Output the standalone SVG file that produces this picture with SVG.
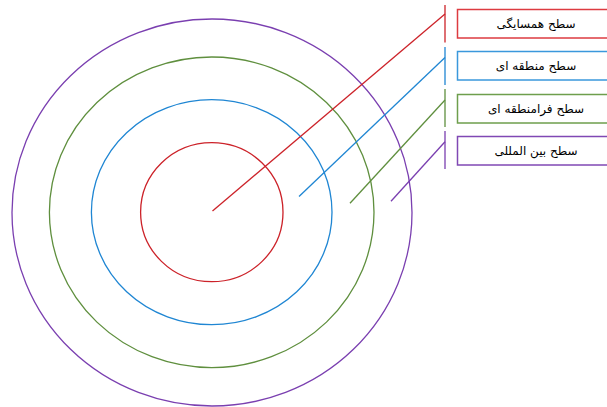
<svg xmlns="http://www.w3.org/2000/svg" width="607" height="407" viewBox="0 0 607 407">
<style>
.c{fill:none;stroke-width:1.3}
.l{fill:none;stroke-width:1.3}
.b{fill:#fff;stroke-width:1.5}
.t{font-family:"DejaVu Sans",sans-serif;font-size:12px;fill:#000;text-anchor:middle;direction:rtl}
.r{stroke:#CC2229}.bl{stroke:#1F86D3}.g{stroke:#5F8F3E}.p{stroke:#7A3FB0}
</style>
<rect width="607" height="407" fill="#fff"/>
<g id="circles">
<ellipse id="c-purple" class="c p" cx="212" cy="212.5" rx="200" ry="193.5"/>
<ellipse id="c-green" class="c g" cx="211.7" cy="212.3" rx="162.3" ry="155.3"/>
<ellipse id="c-blue" class="c bl" cx="211.7" cy="212.2" rx="120.3" ry="112.5"/>
<ellipse id="c-red" class="c r" cx="211.8" cy="212.2" rx="71.2" ry="69.5"/>
</g>
<g id="connectors">
<line class="l r" x1="212.5" y1="211" x2="445" y2="14"/>
<line class="l r" x1="445" y1="5" x2="445" y2="42.5"/>
<line class="l bl" x1="299" y1="196.5" x2="445" y2="57.5"/>
<line class="l bl" x1="445" y1="47" x2="445" y2="85"/>
<line class="l g" x1="350" y1="203.3" x2="445" y2="100"/>
<line class="l g" x1="445" y1="89" x2="445" y2="127"/>
<line class="l p" x1="391" y1="201.3" x2="445" y2="141.7"/>
<line class="l p" x1="445" y1="131" x2="445" y2="169"/>
</g>
<g id="n-neighbor">
<rect class="b" x="457.5" y="9.5" width="158" height="28.5" stroke="#DD3B40"/>
<text class="t" x="536" y="27.5">سطح همسایگی</text>
</g>
<g id="n-regional">
<rect class="b" x="457.5" y="51.5" width="158" height="28.5" stroke="#3A98DC"/>
<text class="t" x="536" y="69.5">سطح منطقه ای</text>
</g>
<g id="n-transregional">
<rect class="b" x="457.5" y="94.5" width="158" height="28.5" stroke="#6E9E4C"/>
<text class="t" x="536" y="112.5">سطح فرامنطقه ای</text>
</g>
<g id="n-international">
<rect class="b" x="457.5" y="136.5" width="158" height="28.5" stroke="#8048B4"/>
<text class="t" x="536" y="154.5">سطح بین المللی</text>
</g>
</svg>
